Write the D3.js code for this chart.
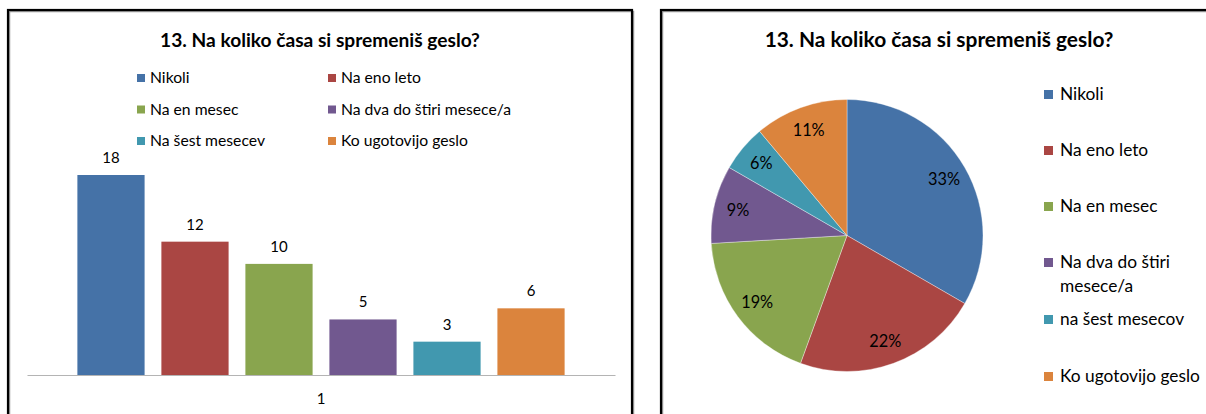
<!DOCTYPE html>
<html>
<head>
<meta charset="utf-8">
<script src="https://cdn.jsdelivr.net/npm/d3@7"></script>
<style>
  html, body { margin: 0; padding: 0; background: #fff; }
  svg { display: block; font-family: Lato, "Open Sans", sans-serif; }
</style>
</head>
<body>
<svg id="chart" width="1206" height="414"></svg>
<script>
// ---- data ----
const title = "13. Na koliko časa si spremeniš geslo?";
const barCategories = ["1"];
const barSeries = ["Nikoli", "Na eno leto", "Na en mesec", "Na dva do štiri mesece/a", "Na šest mesecev", "Ko ugotovijo geslo"];
const barValues = [18, 12, 10, 5, 3, 6];
const pieLabels = ["Nikoli", "Na eno leto", "Na en mesec", "Na dva do štiri mesece/a", "na šest mesecov", "Ko ugotovijo geslo"];
const pieValues = [18, 12, 10, 5, 3, 6];
const colors = ["#4572A7", "#AA4643", "#89A54E", "#71588F", "#4198AF", "#DB843D"];

const svg = d3.select("#chart");

function fitWidth(sel, target) {
  const len = sel.node().getComputedTextLength();
  const fs = parseFloat(sel.attr("font-size"));
  const nfs = fs * target / len;
  sel.attr("font-size", nfs);
  return nfs;
}
function measureSize(text, baseSize, target, weight) {
  const t = svg.append("text").attr("font-size", baseSize).attr("font-weight", weight || "normal").text(text);
  const s = baseSize * target / t.node().getComputedTextLength();
  t.remove();
  return s;
}

// ---- panels ----
function panel(x, y, w, h) {
  svg.append("rect").attr("x", x + 1.5).attr("y", y + 1.5).attr("width", w).attr("height", h)
    .attr("fill", "none").attr("stroke", "#9a9a9a").attr("stroke-width", 1.5);
  svg.append("rect").attr("x", x).attr("y", y).attr("width", w).attr("height", h)
    .attr("fill", "none").attr("stroke", "#000").attr("stroke-width", 2.2);
}
panel(8, 10, 624, 430);
panel(661, 10, 600, 430);

// ---- LEFT: bar chart ----
const lt = svg.append("text").attr("x", 320).attr("y", 47).attr("text-anchor", "middle")
  .attr("font-weight", "bold").attr("font-size", 18).attr("fill", "#000").text(title);
fitWidth(lt, 320);

// legend (3 rows x 2 cols)
const lLegSize = measureSize("Ko ugotovijo geslo", 15, 127);
const lLeg = svg.append("g");
barSeries.forEach((s, i) => {
  const col = i % 2, row = Math.floor(i / 2);
  const gx = col === 0 ? 137 : 328;
  const gy = 83 + row * 31.5;
  lLeg.append("rect").attr("x", gx).attr("y", gy - 9).attr("width", 8).attr("height", 8).attr("fill", colors[i]);
  lLeg.append("text").attr("x", gx + 13).attr("y", gy).attr("font-size", lLegSize).attr("fill", "#000").text(s);
});

const x0 = d3.scaleBand().domain(barCategories).range([27, 615]).paddingInner(0).paddingOuter(0.0833);
const x1 = d3.scaleBand().domain(barSeries).range([0, x0.bandwidth()]).paddingInner(0.2).paddingOuter(0.1);
const y = d3.scaleLinear().domain([0, 18]).range([375, 175]);

const bars = svg.append("g");
barCategories.forEach(c => {
  barSeries.forEach((s, i) => {
    const bx = x0(c) + x1(s);
    bars.append("rect").attr("x", bx).attr("y", y(barValues[i])).attr("width", x1.bandwidth())
      .attr("height", y(0) - y(barValues[i])).attr("fill", colors[i]);
    bars.append("text").attr("x", bx + x1.bandwidth() / 2).attr("y", y(barValues[i]) - 12)
      .attr("text-anchor", "middle").attr("font-size", 15).attr("fill", "#000").text(barValues[i]);
  });
});

const xAxis = svg.append("g").attr("transform", `translate(0,${y(0)})`)
  .call(d3.axisBottom(x0).tickSize(0).tickPadding(18));
xAxis.select(".domain").attr("stroke", "#b4b4b4").attr("stroke-width", 1.2);
xAxis.selectAll("text").attr("font-size", 15).attr("font-family", "Lato, sans-serif").attr("fill", "#000");

// ---- RIGHT: pie chart ----
const rt = svg.append("text").attr("x", 939).attr("y", 47).attr("text-anchor", "middle")
  .attr("font-weight", "bold").attr("font-size", 18).attr("fill", "#000").text(title);
fitWidth(rt, 349);

const cx = 847, cy = 235.5, R = 136;
const pie = d3.pie().sort(null).value(d => d)(pieValues);
const arc = d3.arc().innerRadius(0).outerRadius(R);
const labelArc = d3.arc().innerRadius(112).outerRadius(112);
const total = d3.sum(pieValues);
const pg = svg.append("g").attr("transform", `translate(${cx},${cy})`);
pg.selectAll("path").data(pie).join("path").attr("d", arc)
  .attr("fill", (d, i) => colors[i]).attr("stroke", "#fff").attr("stroke-width", 0.6).attr("stroke-opacity", 0.6);
const pctSize = measureSize("33%", 15, 32);
pg.selectAll("text.pct").data(pie).join("text").attr("class", "pct")
  .attr("transform", d => `translate(${labelArc.centroid(d)})`)
  .attr("text-anchor", "middle").attr("dy", "0.36em").attr("font-size", pctSize).attr("fill", "#000")
  .text(d => Math.round(d.value / total * 100) + "%");

// right legend
const rLegSize = measureSize("Ko ugotovijo geslo", 16, 140);
const rowY = [100, 156, 212, 268, 325, 382];
const rLeg = svg.append("g");
pieLabels.forEach((s, i) => {
  const gy = rowY[i];
  rLeg.append("rect").attr("x", 1044).attr("y", gy - 10).attr("width", 9).attr("height", 9).attr("fill", colors[i]);
  const t = rLeg.append("text").attr("x", 1060).attr("y", gy).attr("font-size", rLegSize).attr("fill", "#000");
  const words = s.split(" ");
  let line = [], lineNo = 0;
  let tspan = t.append("tspan").attr("x", 1060).attr("y", gy);
  words.forEach(w => {
    line.push(w);
    tspan.text(line.join(" "));
    if (tspan.node().getComputedTextLength() > 142 && line.length > 1) {
      line.pop();
      tspan.text(line.join(" "));
      line = [w];
      lineNo++;
      tspan = t.append("tspan").attr("x", 1060).attr("y", gy + lineNo * 24).text(w);
    }
  });
});
</script>
</body>
</html>
